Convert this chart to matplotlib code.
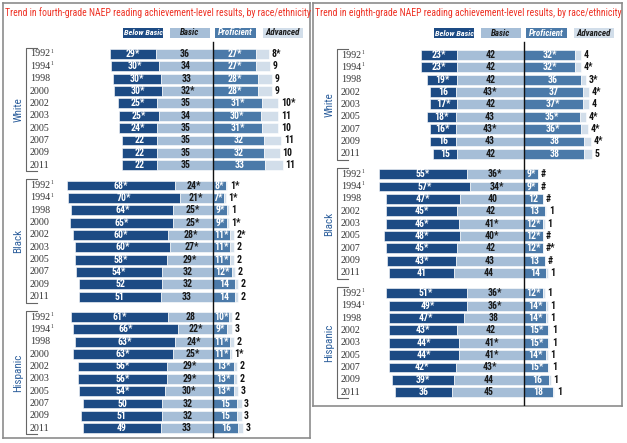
import matplotlib.pyplot as plt
from matplotlib.patches import Rectangle

levels = ["Below Basic", "Basic", "Proficient", "Advanced"]
groups = ["White", "Black", "Hispanic"]

years_g4 = ["1992", "1994", "1998", "2000", "2002", "2003", "2005", "2007", "2009", "2011"]
years_g8 = ["1992", "1994", "1998", "2002", "2003", "2005", "2007", "2009", "2011"]
footnoted = ["1992", "1994"]

# each row: Below Basic, Basic, Proficient, Advanced ("*" = significant diff, "#" = rounds to zero)
g4_white = [["29*", "36", "27*", "8*"], ["30*", "34", "27*", "9"], ["30*", "33", "28*", "9"],
            ["30*", "32*", "28*", "9"], ["25*", "35", "31*", "10*"], ["25*", "34", "30*", "11"],
            ["24*", "35", "31*", "10"], ["22", "35", "32", "11"], ["22", "35", "32", "10"],
            ["22", "35", "33", "11"]]
g4_black = [["68*", "24*", "8*", "1*"], ["70*", "21*", "7*", "1*"], ["64*", "25*", "9*", "1"],
            ["65*", "25*", "9*", "1*"], ["60*", "28*", "11*", "2*"], ["60*", "27*", "11*", "2"],
            ["58*", "29*", "11*", "2"], ["54*", "32", "12*", "2"], ["52", "32", "14", "2"],
            ["51", "33", "14", "2"]]
g4_hisp = [["61*", "28", "10*", "2"], ["66*", "22*", "9*", "3"], ["63*", "24*", "11*", "2"],
           ["63*", "25*", "11*", "1*"], ["56*", "29*", "13*", "2"], ["56*", "29*", "13*", "2"],
           ["54*", "30*", "13*", "3"], ["50", "32", "15", "3"], ["51", "32", "15", "3"],
           ["49", "33", "16", "3"]]

g8_white = [["23*", "42", "32*", "4"], ["23*", "42", "32*", "4*"], ["19*", "42", "36", "3*"],
            ["16", "43*", "37", "4*"], ["17*", "42", "37*", "4"], ["18*", "43", "35*", "4*"],
            ["16*", "43*", "36*", "4*"], ["16", "43", "38", "4*"], ["15", "42", "38", "5"]]
g8_black = [["55*", "36*", "9*", "#"], ["57*", "34*", "9*", "#"], ["47*", "40", "12", "#"],
            ["45*", "42", "13", "1"], ["46*", "41*", "12*", "1"], ["48*", "40*", "12*", "#"],
            ["45*", "42", "12*", "#*"], ["43*", "43", "13", "#"], ["41", "44", "14", "1"]]
g8_hisp = [["51*", "36*", "12*", "1"], ["49*", "36*", "14*", "1"], ["47*", "38", "14*", "1"],
           ["43*", "42", "15*", "1"], ["44*", "41*", "15*", "1"], ["44*", "41*", "14*", "1"],
           ["42*", "43*", "15*", "1"], ["39*", "44", "16", "1"], ["36", "45", "18", "1"]]

titles = ["Trend in fourth-grade NAEP reading achievement-level results, by race/ethnicity",
          "Trend in eighth-grade NAEP reading achievement-level results, by race/ethnicity"]

colors = ["#1d4b84", "#a6bed7", "#4b7aa9", "#d2deea"]
text_colors = ["white", "#1a1a1a", "white", "#1a1a1a"]
group_color = "#2d5f9c"
title_color = "#ee3124"
narrow = ["Roboto Condensed", "Liberation Sans Narrow", "Roboto", "DejaVu Sans"]

W, H = 627, 443
PX = 1.59      # pixels per percent
ROW = 12.35    # pixels per row
GAP = 0.65     # extra rows between groups

fig = plt.figure(figsize=(W / 100, H / 100), dpi=100)
fig.patch.set_facecolor("white")
renderer = fig.canvas.get_renderer()


def fit(t, max_px, min_size=3.5):
    w = t.get_window_extent(renderer).width
    if w > max_px:
        t.set_fontsize(max(min_size, t.get_fontsize() * max_px / w))


def to_num(s):
    s = s.replace("*", "")
    return 0.0 if s == "#" else float(s)


def draw_panel(box, title, years, data):
    left, right, top, bottom, center, first = box
    ax = fig.add_axes([left / W, 1 - bottom / H, (right - left) / W, (bottom - top) / H])
    ax.set_xlim((left - center) / PX, (right - center) / PX)
    py = lambda p: (p - first) / ROW
    ax.set_ylim(py(bottom), py(top))
    ax.set_xticks([])
    ax.set_yticks([])
    for sp in ax.spines.values():
        sp.set_color("#8c8c8c")
        sp.set_linewidth(1.2)

    t = fig.text((left + 2) / W, 1 - (top + 10) / H, title, color=title_color,
                 fontsize=10, family=narrow, va="center", ha="left")
    fit(t, right - left - 5)

    # legend boxes
    lx = [(-90, -50), (-43, -3), (2, 43), (50, 90)]
    for (a, b), lev, c, tc in zip(lx, levels, colors, text_colors):
        ax.add_patch(Rectangle((a / PX, py(28)), (b - a) / PX, 10 / ROW,
                               facecolor=c, edgecolor="none"))
        t = ax.text((a + b) / 2 / PX, py(33), lev, color=tc, fontsize=6.5, family=narrow,
                    weight="bold", style="italic", ha="center", va="center")
        fit(t, b - a - 1)

    n = len(years)
    for g, (name, rows) in enumerate(zip(groups, data)):
        y0 = g * (n + GAP)
        for i, (yr, row) in enumerate(zip(years, rows)):
            y = y0 + i
            vals = [to_num(s) for s in row]
            bb, ba, pr, ad = vals
            lefts = [-(bb + ba), -ba, 0, pr]
            for v, l, c in zip(vals, lefts, colors):
                ax.barh(y, v, left=l, height=0.8, color=c, edgecolor="white", linewidth=0.4)
            for k in range(3):
                t = ax.text(lefts[k] + vals[k] / 2, y, row[k], color=text_colors[k], fontsize=7,
                            family=narrow, weight="bold", ha="center", va="center")
                fit(t, vals[k] * PX, 5.5)
            ax.text(pr + ad + 1.6, y, row[3], color="#111111", fontsize=7,
                    family=narrow, weight="bold", ha="left", va="center")
            t = ax.text(-115.3, y, yr, color="#333333", fontsize=7.2, family="Liberation Serif",
                        ha="left", va="center")
            if yr in footnoted:
                ax.annotate("1", xy=(1, 0.8), xycoords=t, xytext=(0.3, 0),
                            textcoords="offset points", color="#333333", fontsize=4,
                            family="Liberation Serif", ha="left", va="center")
        # bracket
        yt, yb = y0 - 0.5, y0 + n - 0.5
        ax.plot([-110.5, -117.3, -117.3, -110.5], [yt, yt, yb, yb], color="#666666", lw=0.8)
        ax.text(-122.5, y0 + (n - 1) / 2, name, color=group_color, fontsize=8, family=narrow,
                rotation=90, ha="center", va="center")

    ax.plot([0, 0], [py(42), py(bottom)], color="#111111", lw=1.0, zorder=5)


draw_panel((3, 310, 3, 438, 213, 54), titles[0], years_g4, [g4_white, g4_black, g4_hisp])
draw_panel((313, 622, 3, 406, 524, 55), titles[1], years_g8, [g8_white, g8_black, g8_hisp])

fig.savefig("out.png", dpi=100)
